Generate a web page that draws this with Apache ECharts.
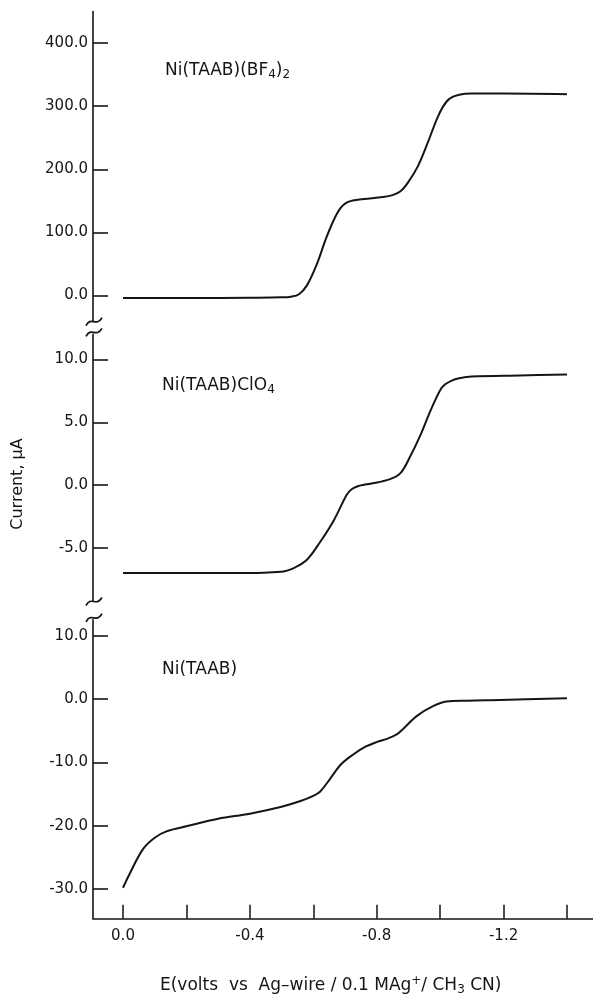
<!DOCTYPE html>
<html>
<head>
<meta charset="utf-8">
<script src="https://cdn.jsdelivr.net/npm/echarts@6/dist/echarts.min.js"></script>
<style>html,body{margin:0;padding:0;background:#fff}#c{width:593px;height:997px}</style>
</head>
<body>
<div id="c"></div>
<script>
// ---- data (E in volts, current in µA) ----
const xTickValues = [0, -0.2, -0.4, -0.6, -0.8, -1.0, -1.2, -1.4];
const xLabelValues = [0, -0.4, -0.8, -1.2];

const ticksBF4 = [0, 100, 200, 300, 400];
const ticksClO4 = [-5, 0, 5, 10];
const ticksTAAB = [-30, -20, -10, 0, 10];

const eBF4 = [0, -0.2, -0.4, -0.5, -0.53, -0.555, -0.58, -0.61, -0.64, -0.665, -0.685, -0.705, -0.73, -0.76, -0.82, -0.85, -0.875, -0.9, -0.93, -0.96, -0.99, -1.01, -1.03, -1.06, -1.1, -1.2, -1.4];
const iBF4 = [-4, -4, -3.5, -3, -2, 2, 16, 48, 90, 120, 138, 147, 151, 153, 156, 159, 165, 180, 205, 241, 280, 300, 312, 318, 320, 320, 319];

const eClO4 = [0, -0.2, -0.4, -0.5, -0.52, -0.54, -0.58, -0.62, -0.665, -0.705, -0.72, -0.74, -0.76, -0.78, -0.84, -0.875, -0.905, -0.94, -0.97, -1.0, -1.015, -1.035, -1.06, -1.1, -1.25, -1.4];
const iClO4 = [-7, -7, -7, -6.9, -6.8, -6.6, -5.95, -4.6, -2.8, -0.8, -0.35, -0.1, 0.02, 0.1, 0.45, 0.95, 2.25, 4.1, 5.95, 7.55, 8.0, 8.3, 8.5, 8.65, 8.73, 8.8];

const eTAAB = [0, -0.02, -0.063, -0.1, -0.137, -0.2, -0.3, -0.4, -0.5, -0.56, -0.6, -0.622, -0.653, -0.684, -0.711, -0.758, -0.8, -0.832, -0.863, -0.884, -0.926, -0.979, -1.02, -1.085, -1.19, -1.4];
const iTAAB = [-29.8, -27.7, -23.7, -21.9, -20.9, -20.1, -18.9, -18.1, -17.0, -16.1, -15.3, -14.6, -12.6, -10.5, -9.3, -7.7, -6.8, -6.3, -5.6, -4.7, -2.7, -1.1, -0.4, -0.26, -0.16, 0.1];

// ---- layout ----
const INK = '#151515';
const FONT = 'DejaVu Sans';
const LEFT = 93;
const panels = [
  { top: 11.5, height: 309.2, min: -40, max: 450, ticks: ticksBF4, e: eBF4, i: iBF4 },
  { top: 334.4, height: 266.1, min: -9.2, max: 12, ticks: ticksClO4, e: eClO4, i: iClO4 },
  { top: 619.8, height: 299, min: -34.7, max: 12.5, ticks: ticksTAAB, e: eTAAB, i: iTAAB }
];

const chart = echarts.init(document.getElementById('c'), null, { renderer: 'canvas' });

const zip = (a, b) => a.map((v, k) => [v, b[k]]);
const fmt = v => (Math.abs(v) < 1e-9 ? '0.0' : v.toFixed(1));

const option = {
  backgroundColor: '#fff',
  animation: false,
  grid: panels.map(p => ({ left: LEFT, right: 0, top: p.top, height: p.height })),
  xAxis: panels.map((p, k) => ({
    type: 'value', gridIndex: k, inverse: true, min: -1.482, max: 0.0946,
    show: k === 2,
    axisLine: { onZero: false, lineStyle: { color: INK, width: 1.6 } },
    axisTick: { inside: true, length: 14, customValues: xTickValues, lineStyle: { color: INK, width: 1.5 } },
    axisLabel: { customValues: xLabelValues, formatter: fmt, margin: 10, color: INK, fontFamily: FONT, fontSize: 15 },
    splitLine: { show: false }
  })),
  yAxis: panels.map((p, k) => ({
    type: 'value', gridIndex: k, min: p.min, max: p.max,
    axisLine: { show: true, onZero: false, lineStyle: { color: INK, width: 1.6 } },
    axisTick: { show: true, inside: true, length: 15, customValues: p.ticks, lineStyle: { color: INK, width: 1.6 } },
    axisLabel: { customValues: p.ticks, formatter: fmt, margin: 5, color: INK, fontFamily: FONT, fontSize: 15 },
    splitLine: { show: false }
  })),
  series: panels.map((p, k) => ({
    type: 'line', xAxisIndex: k, yAxisIndex: k, data: zip(p.e, p.i),
    symbol: 'none', smooth: 0.35,
    lineStyle: { color: INK, width: 2 }
  })),
  graphic: []
};

// break marks on the current axis
function tilde(y) {
  return {
    type: 'bezierCurve',
    shape: { x1: LEFT - 7, y1: y + 4, cpx1: LEFT - 2, cpy1: y - 6, cpx2: LEFT + 3, cpy2: y + 6, x2: LEFT + 9, y2: y - 4 },
    style: { stroke: INK, lineWidth: 1.7, fill: null }
  };
}
const g = option.graphic;
[[0, 1], [1, 2]].forEach(([a, b]) => {
  g.push(tilde(panels[a].top + panels[a].height + 1));
  g.push(tilde(panels[b].top - 2));
});

// panel labels
const rich = {
  m: { fontFamily: FONT, fontSize: 17, color: INK },
  s: { fontFamily: FONT, fontSize: 12, color: INK, padding: [9, 0, 0, 0] },
  sup: { fontFamily: FONT, fontSize: 12, color: INK, padding: [0, 0, 9, 0] }
};
function label(x, y, text) {
  return { type: 'text', left: x, top: y, style: { text: text, rich: rich, fill: INK, font: '17px ' + FONT } };
}
g.push(label(165, 62, '{m|Ni(TAAB)(BF}{s|4}{m|)}{s|2}'));
g.push(label(162, 377, '{m|Ni(TAAB)ClO}{s|4}'));
g.push(label(162, 661, '{m|Ni(TAAB)}'));
g.push(label(160, 975, '{m|E(volts  vs  Ag\u2013wire / 0.1 MAg}{sup|+}{m|/ CH}{s|3}{m| CN)}'));

g.push({
  type: 'text', x: 18, y: 484, rotation: Math.PI / 2,
  style: { text: 'Current, \u03bcA', fill: INK, font: '16px ' + FONT, align: 'center', verticalAlign: 'middle' }
});

chart.setOption(option);
</script>
</body>
</html>
